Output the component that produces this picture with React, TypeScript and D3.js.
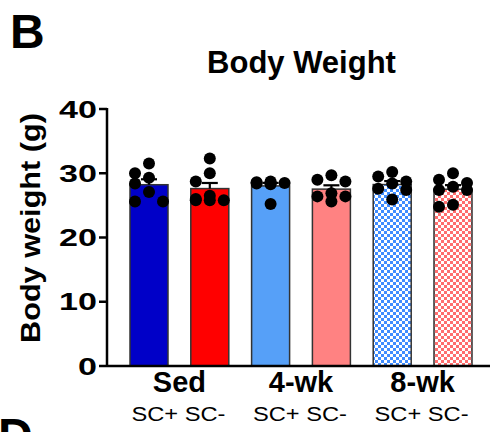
import React from 'react';
import * as d3 from 'd3';

const groups = ['Sed', '4-wk', '8-wk'];
const subgroups = ['SC+', 'SC-'];

// body weight (g) of each animal
const sedScPlus = [29.3, 30.0, 31.5, 28.4, 27.1, 25.6, 25.6];
const sedScMinus = [32.3, 30.0, 28.7, 26.5, 25.8, 25.8, 25.8, 26.0];
const wk4ScPlus = [28.6, 28.4, 28.5, 28.7, 28.3, 28.5, 25.2];
const wk4ScMinus = [29.7, 28.7, 29.0, 26.4, 26.9, 25.6, 26.4];
const wk8ScPlus = [30.2, 28.7, 29.5, 28.4, 27.6, 27.4, 25.9];
const wk8ScMinus = [30.0, 29.0, 28.5, 27.9, 27.4, 27.4, 24.8, 25.1];

const yTicks = [0, 10, 20, 30, 40];

const series = [
  { key: 'sed+', values: sedScPlus, fill: '#0000c8' },
  { key: 'sed-', values: sedScMinus, fill: '#ff0000' },
  { key: 'wk4+', values: wk4ScPlus, fill: '#56a0f8' },
  { key: 'wk4-', values: wk4ScMinus, fill: '#ff8282' },
  { key: 'wk8+', values: wk8ScPlus, fill: 'url(#checkBlue)' },
  { key: 'wk8-', values: wk8ScMinus, fill: 'url(#checkRed)' },
];

const width = 491;
const height = 432;
const font = '"Liberation Sans", Arial, Helvetica, sans-serif';
const dotR = 6;

// simple prism-like scatter: put each dot in the first column that is free
const swarm = (vals: number[], y: d3.ScaleLinear<number, number>) => {
  const cols = [0, -14, 14];
  const placed: { x: number; y: number }[] = [];
  const sorted = [...vals].sort((a, b) => b - a);
  sorted.forEach(v => {
    const py = y(v);
    let best = cols[0];
    let bestDist = -1;
    for (const c of cols) {
      const d = placed.length
        ? Math.min(...placed.map(p => Math.hypot(p.x - c, p.y - py)))
        : Infinity;
      if (d >= dotR * 1.7) { best = c; bestDist = d; break; }
      if (d > bestDist) { best = c; bestDist = d; }
    }
    placed.push({ x: best, y: py });
  });
  return placed;
};

const App = () => {
  const x = d3.scaleBand<string>()
    .domain(series.map(s => s.key))
    .range([118.6, 483.4])
    .paddingInner(0.375)
    .paddingOuter(0.1875);

  const y = d3.scaleLinear().domain([0, 40]).range([366, 109]);

  const axisX = 107;

  return (
    <div style={{ position: 'absolute', left: 0, top: 0 }}>
      <svg width={width} height={height} style={{ display: 'block', background: '#fff' }}>
        <defs>
          <pattern id="checkBlue" width={6} height={6} patternUnits="userSpaceOnUse">
            <rect width={6} height={6} fill="#3f8cff" />
            <rect width={3} height={3} fill="#fff" />
            <rect x={3} y={3} width={3} height={3} fill="#fff" />
          </pattern>
          <pattern id="checkRed" width={6} height={6} patternUnits="userSpaceOnUse">
            <rect width={6} height={6} fill="#ff6e6e" />
            <rect width={3} height={3} fill="#fff" />
            <rect x={3} y={3} width={3} height={3} fill="#fff" />
          </pattern>
        </defs>

        {/* panel letters */}
        <text x={10} y={48} fontFamily={font} fontWeight="bold" fontSize={48}>B</text>
        <text x={-2} y={452} fontFamily={font} fontWeight="bold" fontSize={48}>D</text>

        {/* title */}
        <text x={301.5} y={73} textAnchor="middle" fontFamily={font} fontWeight="bold" fontSize={31}>
          Body Weight
        </text>

        {/* bars */}
        {series.map(s => {
          const m = d3.mean(s.values) as number;
          return (
            <rect key={s.key} x={x(s.key)} y={y(m)} width={x.bandwidth()} height={y(0) - y(m)}
              fill={s.fill} stroke="#333" strokeWidth={1.5} />
          );
        })}

        {/* error bars (mean + SEM) */}
        {series.map(s => {
          const m = d3.mean(s.values) as number;
          const sem = (d3.deviation(s.values) as number) / Math.sqrt(s.values.length);
          const cx = (x(s.key) as number) + x.bandwidth() / 2;
          return (
            <g key={s.key} stroke="#000" strokeWidth={2.2}>
              <line x1={cx} x2={cx} y1={y(m)} y2={y(m + sem)} />
              <line x1={cx - 8} x2={cx + 8} y1={y(m + sem)} y2={y(m + sem)} />
            </g>
          );
        })}

        {/* individual animals */}
        {series.map(s => {
          const cx = (x(s.key) as number) + x.bandwidth() / 2;
          return (
            <g key={s.key}>
              {swarm(s.values, y).map((p, i) => (
                <circle key={i} cx={cx + p.x} cy={p.y} r={dotR} fill="#000" />
              ))}
            </g>
          );
        })}

        {/* y axis */}
        <line x1={axisX} x2={axisX} y1={y(40) - 1} y2={y(0) + 1} stroke="#000" strokeWidth={2.5} />
        {yTicks.map(t => (
          <g key={t}>
            <line x1={axisX - 8} x2={axisX} y1={y(t)} y2={y(t)} stroke="#000" strokeWidth={2.5} />
            <text transform={`translate(97,${y(t) + 8.6}) scale(1.42,1)`} textAnchor="end"
              fontFamily={font} fontWeight="bold" fontSize={24}>{t}</text>
          </g>
        ))}
        <text transform={`translate(40,228) rotate(-90)`} textAnchor="middle" fontFamily={font}
          fontWeight="bold" fontSize={27} textLength={230} lengthAdjust="spacingAndGlyphs">
          Body weight (g)
        </text>

        {/* x axis */}
        <line x1={axisX} x2={490} y1={y(0)} y2={y(0)} stroke="#000" strokeWidth={2.5} />
        {groups.map((g, gi) => {
          const k0 = series[gi * 2].key;
          const k1 = series[gi * 2 + 1].key;
          const cx = ((x(k0) as number) + (x(k1) as number) + x.bandwidth()) / 2;
          return (
            <g key={g}>
              <text x={cx} y={392} textAnchor="middle" fontFamily={font} fontWeight="bold" fontSize={29}>{g}</text>
              <text x={cx - 1} y={421} textAnchor="middle" fontFamily={font} fontSize={20}
                textLength={94} lengthAdjust="spacingAndGlyphs">{subgroups.join(' ')}</text>
            </g>
          );
        })}
      </svg>
    </div>
  );
};

export default App;
